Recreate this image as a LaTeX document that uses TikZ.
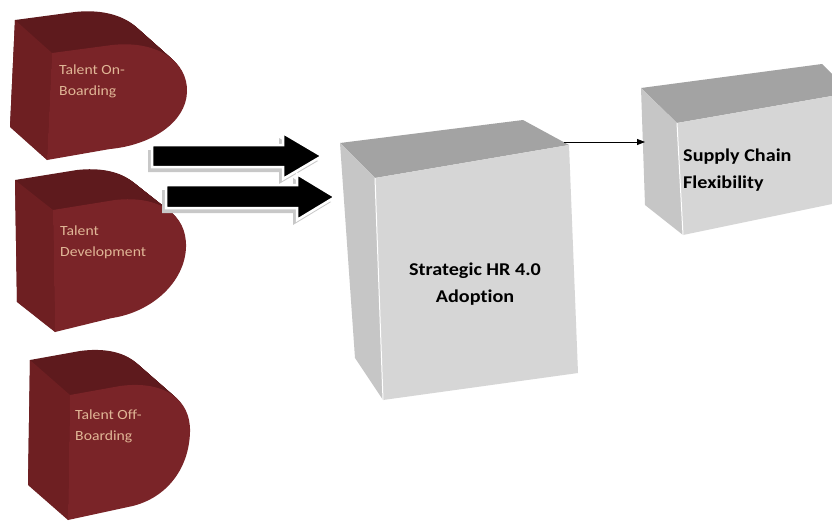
\documentclass[tikz,border=0pt]{standalone}
\usepackage{fontspec}
\setmainfont[Ligatures=NoCommon]{Carlito}
\usetikzlibrary{arrows.meta}
\definecolor{mfront}{RGB}{122,36,40}
\definecolor{mtop}{RGB}{94,26,29}
\definecolor{mside}{RGB}{110,31,34}
\definecolor{mtext}{RGB}{224,182,150}
\definecolor{gfront}{RGB}{214,214,214}
\definecolor{gtop}{RGB}{163,163,163}
\definecolor{gside}{RGB}{198,198,198}
\definecolor{shadowgray}{RGB}{200,200,200}
\tikzset{
  mlabel/.style={text=mtext, font=\fontsize{14}{21}\selectfont, align=left, xscale=1.12, inner sep=0pt, anchor=west},
  blabel/.style={text=black, font=\bfseries\fontsize{18}{27}\selectfont, xscale=1.12, inner sep=0pt},
  blockarrow/.style={fill=black, draw=white, line width=2.5pt, line join=miter},
  arrowshadow/.style={fill=shadowgray},
  link/.style={draw=black, line width=0.8pt, -{Triangle[length=8pt,width=6pt]}},
  edgelight/.style={draw=white, line width=1pt},
}
\newcommand{\extrude}[3]{%
  \foreach \k in {40,...,1} {\fill[mtop, shift={({#2*\k/40},{#3*\k/40})}] #1;}%
}
\begin{document}
\begin{tikzpicture}[x=1pt,y=-1pt]
\useasboundingbox (0,0) rectangle (832,522);
\fill[white] (0,0) rectangle (832,522);

% ---- maroon shape 1
\extrude{(52,53) -- (112,45) .. controls (158,40) and (188,62) .. (187,92) .. controls (186,122) and (152,145) .. (110,149) -- (47,160) -- cycle}{-37}{-33}
\fill[mside] (52,53) -- (15,20) -- (10,127) -- (47,160) -- cycle;
\fill[mfront] (52,53) -- (112,45) .. controls (158,40) and (188,62) .. (187,92) .. controls (186,122) and (152,145) .. (110,149) -- (47,160) -- cycle;
\node[mlabel] (t1) at (59,81.5) {Talent On-\\Boarding};

% ---- maroon shape 2
\extrude{(53,210) -- (115,200) .. controls (160,195) and (187,215) .. (186,247) .. controls (185,282) and (152,312) .. (112,318) -- (55,332) -- cycle}{-38}{-30}
\fill[mside] (53,210) -- (15,180) -- (17,302) -- (55,332) -- cycle;
\fill[mfront] (53,210) -- (115,200) .. controls (160,195) and (187,215) .. (186,247) .. controls (185,282) and (152,312) .. (112,318) -- (55,332) -- cycle;
\node[mlabel] (t2) at (60,242.5) {Talent\\Development};

% ---- maroon shape 3
\extrude{(70,395) -- (120,386) .. controls (165,380) and (191,400) .. (190,432) .. controls (189,470) and (165,500) .. (128,507) -- (68,520) -- cycle}{-40}{-35}
\fill[mside] (70,395) -- (30,360) -- (28,485) -- (68,520) -- cycle;
\fill[mfront] (70,395) -- (120,386) .. controls (165,380) and (191,400) .. (190,432) .. controls (189,470) and (165,500) .. (128,507) -- (68,520) -- cycle;
\node[mlabel] (t3) at (75,426) {Talent Off-\\Boarding};

% ---- block arrows
\fill[arrowshadow] (148,150) -- (279,150) -- (279,138) -- (318,161) -- (279,184) -- (279,172) -- (148,172) -- cycle;
\path[blockarrow] (152,145) -- (283,145) -- (283,133) -- (322,156) -- (283,179) -- (283,167) -- (152,167) -- cycle;
\fill[arrowshadow] (162,190) -- (293,190) -- (293,178) -- (331,202) -- (293,225) -- (293,213) -- (162,213) -- cycle;
\path[blockarrow] (166,185) -- (297,185) -- (297,174) -- (335,197) -- (297,220) -- (297,208) -- (166,208) -- cycle;

% ---- central box
\fill[gtop] (340,143) -- (523,120) -- (569,145) -- (375,178) -- cycle;
\fill[gside] (340,143) -- (375,178) -- (383,400) -- (355,358) -- cycle;
\fill[gfront] (375,178) -- (569,145) -- (578,373) -- (383,400) -- cycle;
\path[edgelight] (375,178) -- (383,400);
\node[blabel, align=center] (hr) at (475,284.5) {Strategic HR 4.0\\Adoption};
\coordinate (hrOut) at (564,142);

% ---- right box
\fill[gtop] (641,88) -- (822,64) -- (832,74) -- (832,96) -- (677,123) -- cycle;
\fill[gside] (641,88) -- (677,123) -- (683,235) -- (645,205) -- cycle;
\fill[gfront] (677,123) -- (832,96) -- (832,204) -- (683,235) -- cycle;
\path[edgelight] (677,123) -- (683,235);
\node[blabel, align=left, anchor=west] (sc) at (683,170.5) {Supply Chain\\Flexibility};
\coordinate (scIn) at (645,142);

% ---- connector
\draw[link] (hrOut) -- (scIn);
\end{tikzpicture}
\end{document}
